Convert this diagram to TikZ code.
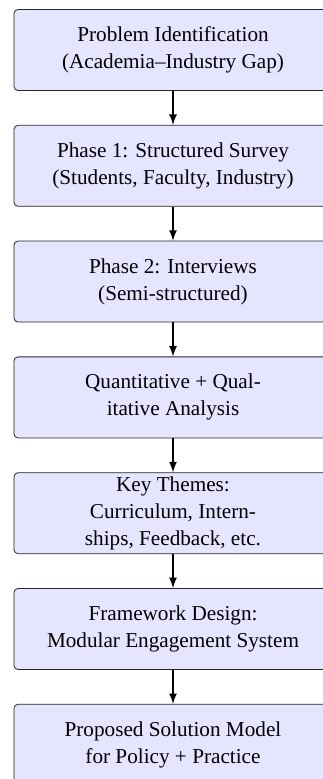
\documentclass[tikz,border=0pt]{standalone}
\usepackage{fontspec}
\setmainfont{Liberation Serif}
\usepackage{tikz}
\usetikzlibrary{arrows}
\usetikzlibrary{shapes}
\tikzstyle{stage}=[shape=rectangle,draw=black!85,fill=blue!10,rounded corners=2pt,inner sep=0pt,minimum width=159pt,minimum height=40.5pt,align=center,font=\fontsize{10.6}{13.5}\selectfont]
\tikzstyle{tran}=[draw,->,>=latex,thick]

\begin{document}
\begin{tikzpicture}[y = -57.9pt]
\useasboundingbox[fill=white] (-86.5pt,25pt) rectangle (74.5pt,-364.5pt);

\node[stage] (prob) at (0,0) {Problem Identification\\(Academia--Industry Gap)};
\node[stage] (survey) at (0,1) {Phase 1: Structured Survey\\(Students, Faculty, Industry)};
\node[stage] (intv) at (0,2) {Phase 2: Interviews\\(Semi-structured)};
\node[stage] (anal) at (0,3) {Quantitative + Qual-\\itative Analysis};
\node[stage] (themes) at (0,4) {Key Themes:\\Curriculum, Intern-\\ships, Feedback, etc.};
\node[stage] (frame) at (0,5) {Framework Design:\\Modular Engagement System};
\node[stage] (model) at (0,6) {Proposed Solution Model\\for Policy + Practice};

\draw[tran] (prob) -- (survey);
\draw[tran] (survey) -- (intv);
\draw[tran] (intv) -- (anal);
\draw[tran] (anal) -- (themes);
\draw[tran] (themes) -- (frame);
\draw[tran] (frame) -- (model);
\end{tikzpicture}
\end{document}
